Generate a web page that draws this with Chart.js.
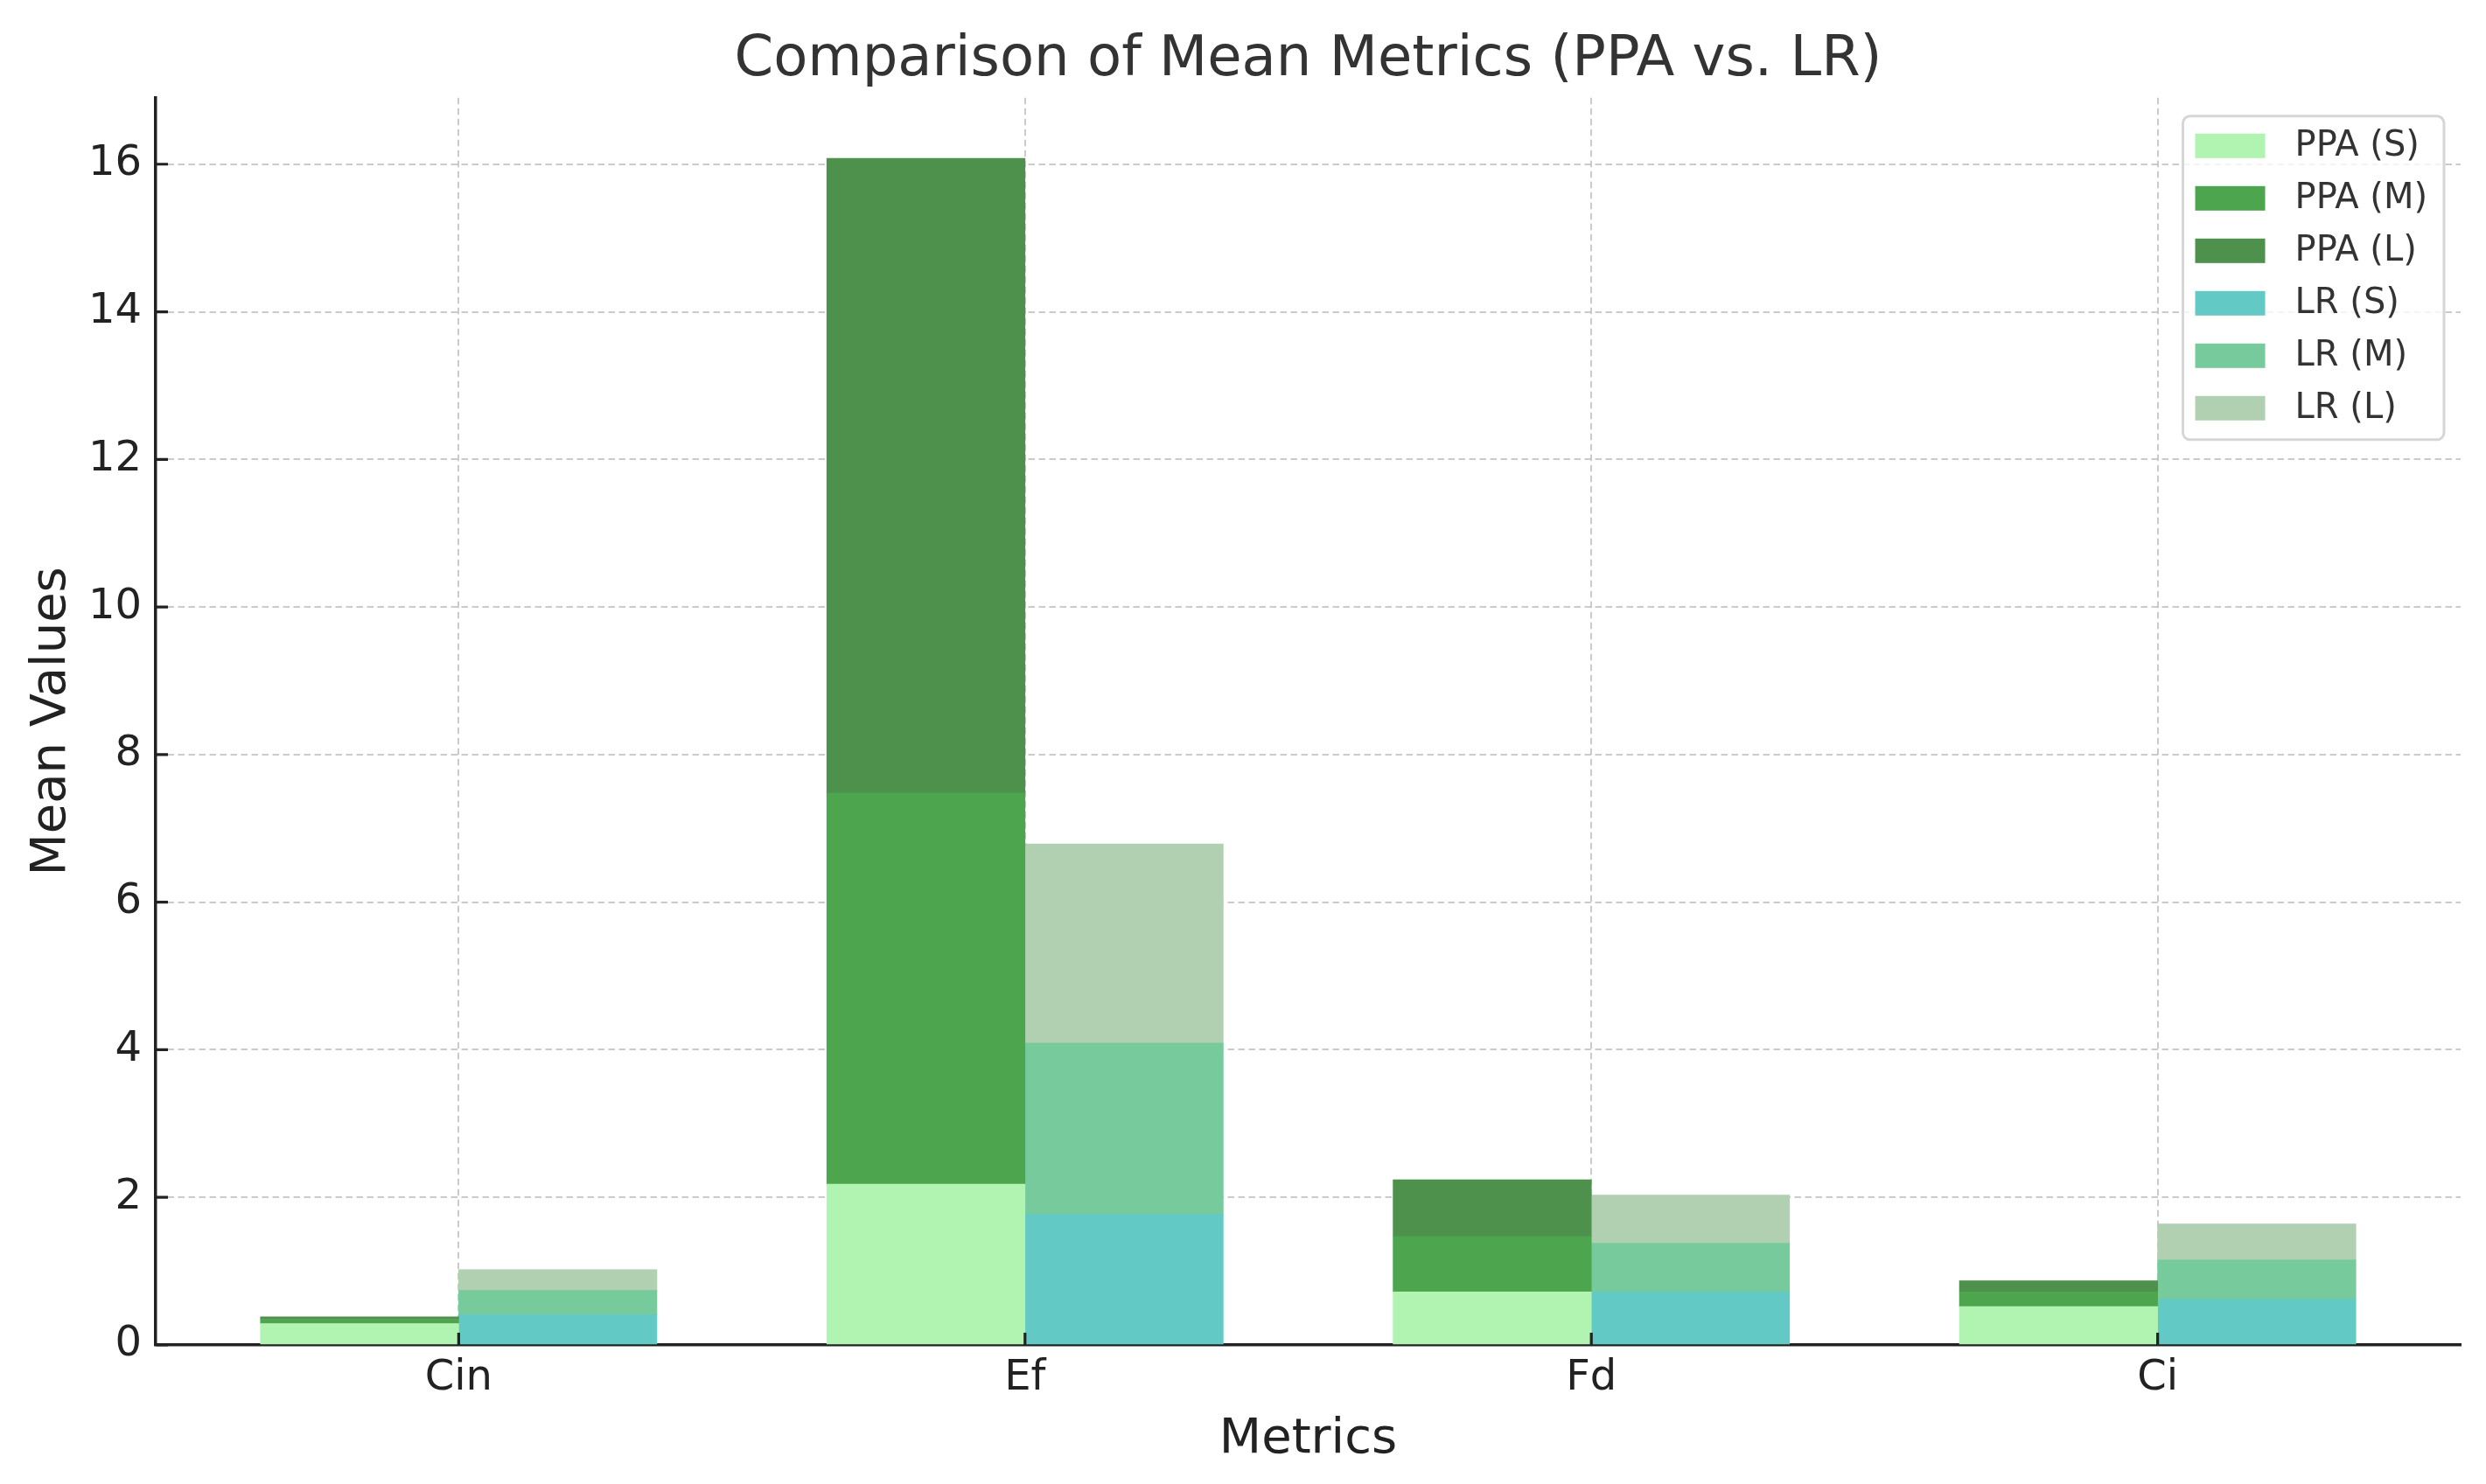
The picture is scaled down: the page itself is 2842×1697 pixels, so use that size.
<!DOCTYPE html>
<html lang="en">
<head>
    <meta charset="UTF-8">
    <title>Comparison of Mean Metrics (PPA vs. LR)</title>
    <style>
        body { margin: 0; background: #fff; }
    </style>
</head>
<body>
    <canvas id="myChart" width="2842" height="1697"></canvas>

    <script src="https://cdn.jsdelivr.net/npm/chart.js"></script>
    <script>
        // categories (x axis)
        const categories = ["Cin", "Ef", "Fd", "Ci"];

        // PPA stacks
        const ppaS = [0.29, 2.18, 0.72, 0.52];
        const ppaM = [0.06, 5.30, 0.75, 0.20];
        const ppaL = [0.03, 8.60, 0.77, 0.15];

        // LR stacks
        const lrS = [0.41, 1.77, 0.72, 0.62];
        const lrM = [0.33, 2.32, 0.66, 0.53];
        const lrL = [0.28, 2.70, 0.65, 0.49];

        // y tick labels
        const yTicks = [0, 2, 4, 6, 8, 10, 12, 14, 16];

        const barWidth = 0.35;
        const font = "'DejaVu Sans', 'Liberation Sans', sans-serif";

        // builds points for one series, shifted left (PPA) or right (LR) of the category
        function f_points(values, side){
            return values.map(function(v, i){
                return { x: i + side * barWidth / 2, y: v };
            });
        }

        // inward tick marks like matplotlib
        const innerTicks = {
            id: "innerTicks",
            afterDraw(chart){
                const ctx = chart.ctx;
                const area = chart.chartArea;
                const xs = chart.scales.x;
                const ys = chart.scales.y;
                ctx.save();
                ctx.strokeStyle = "#222";
                ctx.lineWidth = 3.2;
                ctx.beginPath();
                yTicks.forEach(function(t){
                    const y = ys.getPixelForValue(t);
                    ctx.moveTo(area.left, y);
                    ctx.lineTo(area.left + 14, y);
                });
                categories.forEach(function(c, i){
                    const x = xs.getPixelForValue(i);
                    ctx.moveTo(x, area.bottom);
                    ctx.lineTo(x, area.bottom - 14);
                });
                ctx.stroke();
                ctx.restore();
            }
        };

        // legend box in the upper right corner of the plot
        const boxLegend = {
            id: "boxLegend",
            afterDraw(chart){
                const ctx = chart.ctx;
                const area = chart.chartArea;
                const sets = chart.data.datasets;
                ctx.save();
                ctx.font = "40px " + font;
                let maxW = 0;
                sets.forEach(function(d){
                    maxW = Math.max(maxW, ctx.measureText(d.label).width);
                });
                const w = 14 + 80 + 34 + maxW + 19;
                const h = 34 + 60 * (sets.length - 1) + 36;
                const x0 = area.right - 19 - w;
                const y0 = area.top + 21;

                ctx.beginPath();
                ctx.roundRect(x0, y0, w, h, 8);
                ctx.fillStyle = "rgba(255,255,255,0.8)";
                ctx.fill();
                ctx.lineWidth = 3;
                ctx.strokeStyle = "#d6d6d6";
                ctx.stroke();

                sets.forEach(function(d, i){
                    const cy = y0 + 34 + i * 60;
                    ctx.fillStyle = d.backgroundColor;
                    ctx.fillRect(x0 + 14, cy - 14, 80, 28);
                    ctx.fillStyle = "#333";
                    ctx.textBaseline = "middle";
                    ctx.textAlign = "left";
                    ctx.fillText(d.label, x0 + 14 + 80 + 34, cy + 1);
                });
                ctx.restore();
            }
        };

        const ctx = document.getElementById("myChart");

        let myChart = new Chart(ctx, {
            type: "bar",
            data: {
                datasets: [
                    { label: "PPA (S)", data: f_points(ppaS, -1), backgroundColor: "#b1f3b1" },
                    { label: "PPA (M)", data: f_points(ppaM, -1), backgroundColor: "#4da64d" },
                    { label: "PPA (L)", data: f_points(ppaL, -1), backgroundColor: "#4d914d" },
                    { label: "LR (S)", data: f_points(lrS, 1), backgroundColor: "#63c9c4" },
                    { label: "LR (M)", data: f_points(lrM, 1), backgroundColor: "#77ca9c" },
                    { label: "LR (L)", data: f_points(lrL, 1), backgroundColor: "#b1d0b1" }
                ]
            },
            plugins: [innerTicks, boxLegend],
            options: {
                responsive: false,
                devicePixelRatio: 1,
                animation: false,
                events: [],
                categoryPercentage: 1.0,
                barPercentage: 1.0,
                layout: {
                    padding: { left: 0, right: 29, top: 0, bottom: 0 }
                },
                plugins: {
                    legend: { display: false },
                    tooltip: { enabled: false },
                    title: {
                        display: true,
                        text: "Comparison of Mean Metrics (PPA vs. LR)",
                        fullSize: false,
                        color: "#333",
                        font: { family: font, size: 64, weight: "normal" },
                        padding: { top: 31, bottom: 4 }
                    }
                },
                scales: {
                    x: {
                        type: "linear",
                        stacked: true,
                        offset: false,
                        min: -0.535,
                        max: 3.535,
                        z: 1,
                        afterBuildTicks: function(axis){
                            axis.ticks = categories.map(function(c, i){ return { value: i }; });
                        },
                        afterFit: function(axis){ axis.height = 159; },
                        ticks: {
                            padding: 10,
                            color: "#222",
                            font: { family: font, size: 48 },
                            callback: function(v){ return categories[v]; }
                        },
                        grid: {
                            offset: false,
                            color: "rgba(190,190,190,0.8)",
                            lineWidth: 2,
                            drawTicks: false
                        },
                        border: { display: true, color: "#222", width: 3.5, dash: [7.5, 4.5] },
                        title: {
                            display: true,
                            text: "Metrics",
                            color: "#222",
                            font: { family: font, size: 56 },
                            padding: { top: 0, bottom: 17 }
                        }
                    },
                    y: {
                        stacked: true,
                        min: 0,
                        max: 16.9,
                        z: 1,
                        afterBuildTicks: function(axis){
                            axis.ticks = yTicks.map(function(t){ return { value: t }; });
                        },
                        afterFit: function(axis){ axis.width = 178; },
                        ticks: {
                            padding: 16,
                            color: "#222",
                            font: { family: font, size: 48 }
                        },
                        grid: {
                            color: "rgba(190,190,190,0.8)",
                            lineWidth: 2,
                            drawTicks: false
                        },
                        border: { display: true, color: "#222", width: 3.5, dash: [7.5, 4.5] },
                        title: {
                            display: true,
                            text: "Mean Values",
                            color: "#222",
                            font: { family: font, size: 56 },
                            padding: { top: 26, bottom: 0 }
                        }
                    }
                }
            }
        });
    </script>
</body>
</html>
